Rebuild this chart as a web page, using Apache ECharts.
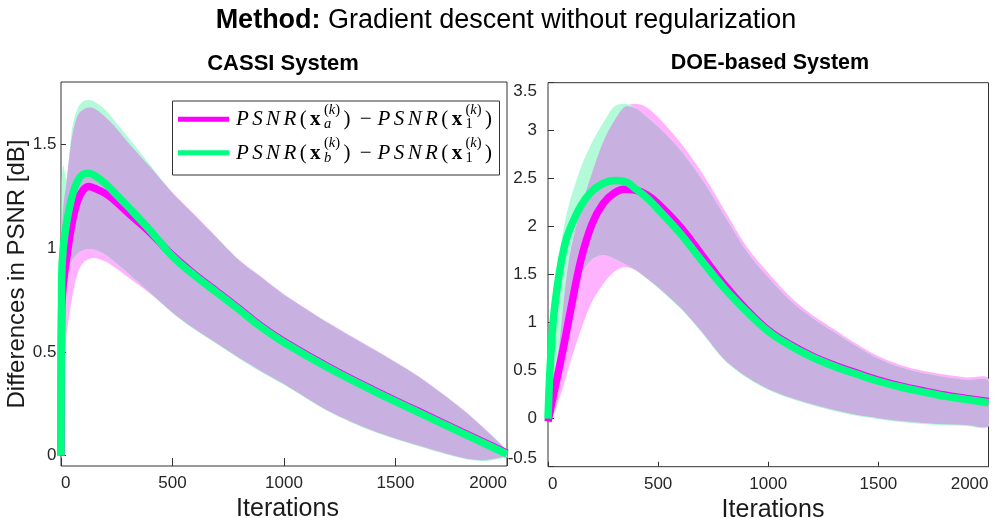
<!DOCTYPE html>
<html>
<head>
<meta charset="utf-8">
<script src="https://cdn.jsdelivr.net/npm/echarts@6.0.0/dist/echarts.min.js"></script>
<style>
  html, body { margin: 0; padding: 0; background: #fff; }
  #chart { width: 994px; height: 518px; }
</style>
</head>
<body>
<div id="chart"></div>
<script>
// ---------- CASSI system: PSNR differences vs. iterations ----------
const cassiIters = [0, 3, 10, 25, 50, 75, 100, 125, 150, 200, 250, 300, 400, 500, 600, 700, 800, 900, 1000, 1200, 1400, 1600, 1800, 1900, 2000];
const cassiMeanA = [0, 0.70, 0.82, 0.95, 1.12, 1.23, 1.28, 1.296, 1.288, 1.262, 1.22, 1.17, 1.075, 0.965, 0.872, 0.79, 0.707, 0.622, 0.55, 0.427, 0.317, 0.215, 0.113, 0.063, 0.012];
const cassiMeanB = [0, 0.85, 1.0, 1.12, 1.25, 1.325, 1.355, 1.36, 1.35, 1.31, 1.255, 1.2, 1.085, 0.96, 0.867, 0.785, 0.702, 0.617, 0.545, 0.422, 0.312, 0.21, 0.108, 0.058, 0.007];
const cassiUpA   = [0, 1.05, 1.2, 1.32, 1.54, 1.64, 1.668, 1.677, 1.672, 1.63, 1.575, 1.51, 1.39, 1.268, 1.16, 1.05, 0.942, 0.86, 0.778, 0.64, 0.515, 0.385, 0.225, 0.13, 0.025];
const cassiUpB   = [0, 1.30, 1.40, 1.33, 1.58, 1.675, 1.707, 1.713, 1.705, 1.665, 1.60, 1.535, 1.40, 1.265, 1.157, 1.047, 0.939, 0.857, 0.775, 0.637, 0.512, 0.382, 0.222, 0.127, 0.022];
const cassiLowA  = [0, 0.2, 0.40, 0.58, 0.76, 0.88, 0.93, 0.947, 0.952, 0.935, 0.90, 0.86, 0.78, 0.69, 0.61, 0.54, 0.47, 0.405, 0.345, 0.215, 0.12, 0.05, -0.01, -0.022, 0.0];
const cassiLowB  = [0, 0.55, 0.75, 0.87, 0.94, 0.975, 0.99, 0.995, 0.993, 0.968, 0.925, 0.88, 0.785, 0.686, 0.606, 0.536, 0.466, 0.401, 0.341, 0.211, 0.116, 0.046, -0.014, -0.026, -0.004];

// ---------- DOE-based system ----------
const doeIters = [0, 10, 25, 50, 75, 100, 150, 200, 250, 300, 350, 400, 450, 500, 600, 700, 800, 900, 1000, 1100, 1200, 1300, 1400, 1500, 1600, 1700, 1800, 1900, 2000];
const doeMeanA = [-0.03, 0.08, 0.25, 0.52, 0.8, 1.1, 1.66, 2.03, 2.24, 2.35, 2.39, 2.38, 2.33, 2.24, 2.0, 1.70, 1.40, 1.14, 0.922, 0.772, 0.652, 0.557, 0.477, 0.402, 0.342, 0.292, 0.247, 0.212, 0.179];
const doeMeanB = [0, 0.55, 1.05, 1.5, 1.8, 1.98, 2.22, 2.37, 2.45, 2.48, 2.47, 2.39, 2.3, 2.18, 1.93, 1.64, 1.36, 1.12, 0.91, 0.76, 0.64, 0.545, 0.465, 0.39, 0.33, 0.28, 0.235, 0.2, 0.167];
const doeUpA   = [0, 0.15, 0.4, 0.75, 1.3, 1.72, 2.2, 2.56, 2.88, 3.1, 3.25, 3.28, 3.24, 3.14, 2.88, 2.56, 2.18, 1.8, 1.52, 1.27, 1.08, 0.93, 0.78, 0.65, 0.56, 0.5, 0.46, 0.43, 0.42];
const doeUpB   = [0, 0.65, 1.15, 1.68, 2.03, 2.27, 2.62, 2.88, 3.08, 3.25, 3.28, 3.23, 3.14, 3.04, 2.8, 2.49, 2.12, 1.75, 1.47, 1.23, 1.05, 0.9, 0.755, 0.625, 0.535, 0.475, 0.435, 0.405, 0.395];
const doeLowA  = [0, 0.0, 0.05, 0.2, 0.38, 0.58, 0.93, 1.22, 1.40, 1.53, 1.58, 1.54, 1.46, 1.37, 1.16, 0.9, 0.62, 0.44, 0.31, 0.22, 0.15, 0.09, 0.04, 0.005, -0.025, -0.045, -0.057, -0.065, -0.07];
const doeLowB  = [0, 0.15, 0.35, 0.6, 0.85, 1.1, 1.5, 1.66, 1.705, 1.67, 1.61, 1.55, 1.455, 1.36, 1.15, 0.89, 0.61, 0.43, 0.30, 0.21, 0.14, 0.08, 0.03, -0.005, -0.035, -0.055, -0.067, -0.075, -0.08];

// ---------- axis ticks ----------
const xTicks = [0, 500, 1000, 1500, 2000];
const cassiYTicks = [0, 0.5, 1, 1.5];
const doeYTicks = [-0.5, 0, 0.5, 1, 1.5, 2, 2.5, 3, 3.5];

// ---------- text ----------
const mainTitleBold = 'Method:';
const mainTitleRest = ' Gradient descent without regularization';
const leftTitle = 'CASSI System';
const rightTitle = 'DOE-based System';
const xName = 'Iterations';
const yName = 'Differences in PSNR [dB]';

// ---------- colours ----------
const MAGENTA = '#FF00FF';
const SPRING = '#00FF80';
const PINK_FILL = '#FFB3FF';
const GREEN_FILL = '#B3FAD9';
const BOTH_FILL = '#C8B1E0';
const AXIS = '#333333';
const LABEL = '#262626';
const SANS = "'Liberation Sans', Arial, Helvetica, sans-serif";
const SERIF = "'Liberation Serif', 'Times New Roman', serif";

const chart = echarts.init(document.getElementById('chart'), null, { renderer: 'canvas' });

function pairs(xs, ys) { return xs.map((x, i) => [x, ys[i]]); }

// Shaded min/max band: one smoothed polygon through the axis scales.
function bandSeries(xs, lo, hi, color, gi) {
  return {
    type: 'custom', xAxisIndex: gi, yAxisIndex: gi, silent: true, clip: true,
    data: xs.map((x, i) => [x, lo[i], hi[i]]),
    encode: { x: 0, y: [1, 2] },
    renderItem: function (params, api) {
      if (params.dataIndex !== 0) return null;
      const top = xs.map((x, i) => api.coord([x, hi[i]]));
      const bottom = xs.map((x, i) => api.coord([x, lo[i]])).reverse();
      return {
        type: 'polygon',
        shape: { points: top.concat(bottom), smooth: 0.3 },
        style: { fill: color, stroke: null }
      };
    }
  };
}

function panelSeries(xs, meanA, meanB, upA, upB, lowA, lowB, gi) {
  const lowBoth = lowA.map((v, i) => Math.max(v, lowB[i]));
  const upBoth = upA.map((v, i) => Math.max(Math.min(v, upB[i]), lowBoth[i]));
  const line = (ys, color) => ({
    type: 'line', xAxisIndex: gi, yAxisIndex: gi, data: pairs(xs, ys),
    smooth: 0.4, showSymbol: false, symbol: 'none', silent: true,
    lineStyle: { color: color, width: 7.5 }, emphasis: { disabled: true }
  });
  return [
    bandSeries(xs, lowA, upA, PINK_FILL, gi),
    bandSeries(xs, lowB, upB, GREEN_FILL, gi),
    bandSeries(xs, lowBoth, upBoth, BOTH_FILL, gi),
    line(meanA, MAGENTA),
    line(meanB, SPRING)
  ];
}

function xAxisOf(gi, tickLen, padLeft) {
  return {
    type: 'value', gridIndex: gi, min: 0, max: 2000, interval: 500,
    axisLine: { show: false, onZero: false },
    axisTick: { show: true, inside: true, length: tickLen, lineStyle: { color: AXIS, width: 1 } },
    axisLabel: {
      color: LABEL, fontSize: 17, fontFamily: SANS, margin: 9,
      alignMinLabel: 'left', alignMaxLabel: 'right',
      formatter: v => String(v)
    },
    splitLine: { show: false },
    name: xName, nameLocation: 'middle', nameGap: 22,
    nameTextStyle: { fontSize: 25, fontFamily: SANS, color: '#1a1a1a', padding: [0, 0, 0, padLeft] }
  };
}

// ---------- legend (drawn as text pieces so sub/superscripts stack) ----------
const measureCtx = document.createElement('canvas').getContext('2d');
function textWidth(str, font) { measureCtx.font = font; return measureCtx.measureText(str).width; }
const MAIN_SIZE = 21, SMALL_SIZE = 14.5;
function fontOf(kind, size) {
  if (kind === 'it') return 'italic ' + size + 'px ' + SERIF;
  if (kind === 'bf') return 'bold ' + size + 'px ' + SERIF;
  return size + 'px ' + SERIF;
}
function psnrTokens(sub, subKind) {
  return [
    { t: 'P', k: 'it' }, { t: 'S', k: 'it' }, { t: 'N', k: 'it' }, { t: 'R', k: 'it' },
    { t: '(', k: 'up' }, { t: 'x', k: 'bf' },
    { sup: [{ t: '(', k: 'up' }, { t: 'k', k: 'it' }, { t: ')', k: 'up' }], sub: [{ t: sub, k: subKind }] },
    { t: ')', k: 'up' }
  ];
}
function rowTokens(sub) {
  return psnrTokens(sub, 'it').concat([{ t: '\u2212', k: 'up', padL: 6, padR: 6, fixed: true }], psnrTokens('1', 'up'));
}
function runWidth(run, size) { return run.reduce((s, r) => s + textWidth(r.t, fontOf(r.k, size)), 0); }
function layoutRow(tokens, x0, baseline, targetWidth) {
  let natural = 0, slots = 0;
  tokens.forEach(tk => {
    if (tk.sup) natural += Math.max(runWidth(tk.sup, SMALL_SIZE), runWidth(tk.sub, SMALL_SIZE));
    else natural += textWidth(tk.t, fontOf(tk.k, MAIN_SIZE)) + (tk.padL || 0) + (tk.padR || 0);
    if (!tk.fixed) slots++;
  });
  const gap = Math.max(0, Math.min(3.4, (targetWidth - natural) / (slots - 1)));
  const out = [];
  const put = (t, k, size, x, base) => out.push({
    type: 'text', z: 101, silent: true,
    style: {
      text: t, x: x, y: base - 0.34 * size, font: fontOf(k, size), fill: '#000',
      align: 'left', verticalAlign: 'middle', textAlign: 'left', textVerticalAlign: 'middle'
    }
  });
  let x = x0;
  tokens.forEach(tk => {
    if (tk.sup) {
      let sx = x;
      tk.sup.forEach(r => { put(r.t, r.k, SMALL_SIZE, sx, baseline - 12); sx += textWidth(r.t, fontOf(r.k, SMALL_SIZE)); });
      let bx = x;
      tk.sub.forEach(r => { put(r.t, r.k, SMALL_SIZE, bx, baseline + 2.5); bx += textWidth(r.t, fontOf(r.k, SMALL_SIZE)); });
      x = Math.max(sx, bx) + gap;
    } else {
      x += tk.padL || 0;
      put(tk.t, tk.k, MAIN_SIZE, x, baseline);
      x += textWidth(tk.t, fontOf(tk.k, MAIN_SIZE)) + (tk.padR || 0) + (tk.fixed ? 0 : gap);
    }
  });
  return out;
}

const legendElements = [
  { type: 'rect', z: 100, silent: true, shape: { x: 172.5, y: 101, width: 327, height: 74 },
    style: { fill: '#fff', stroke: AXIS, lineWidth: 1 } },
  { type: 'line', z: 101, silent: true, shape: { x1: 178, y1: 119.3, x2: 229, y2: 119.3 },
    style: { stroke: MAGENTA, lineWidth: 5 } },
  { type: 'line', z: 101, silent: true, shape: { x1: 178, y1: 152.7, x2: 229, y2: 152.7 },
    style: { stroke: SPRING, lineWidth: 5 } }
].concat(
  layoutRow(rowTokens('a'), 236, 127, 256),
  layoutRow(rowTokens('b'), 236, 160.3, 256)
);

// ---------- titles ----------
const mainBoldW = textWidth(mainTitleBold, 'bold 27px ' + SANS);
const mainRestW = textWidth(mainTitleRest, '27px ' + SANS);
const mainX0 = 506 - (mainBoldW + mainRestW) / 2;
const titleElements = [
  { type: 'text', silent: true, style: { text: mainTitleBold, x: mainX0, y: 21, font: 'bold 27px ' + SANS, fill: '#000',
      align: 'left', verticalAlign: 'middle', textAlign: 'left', textVerticalAlign: 'middle' } },
  { type: 'text', silent: true, style: { text: mainTitleRest, x: mainX0 + mainBoldW, y: 21, font: '27px ' + SANS, fill: '#000',
      align: 'left', verticalAlign: 'middle', textAlign: 'left', textVerticalAlign: 'middle' } },
  { type: 'text', silent: true, style: { text: leftTitle, x: 283, y: 63.5, font: 'bold 22px ' + SANS, fill: '#000',
      align: 'center', verticalAlign: 'middle', textAlign: 'center', textVerticalAlign: 'middle' } },
  { type: 'text', silent: true, style: { text: rightTitle, x: 770, y: 63.5, font: 'bold 21.5px ' + SANS, fill: '#000',
      align: 'center', verticalAlign: 'middle', textAlign: 'center', textVerticalAlign: 'middle' } }
];

const option = {
  animation: false,
  backgroundColor: '#fff',
  grid: [
    { left: 61, top: 82, width: 446, height: 384, show: true, borderColor: AXIS, borderWidth: 1,
      backgroundColor: 'transparent', containLabel: false, outerBoundsMode: 'none' },
    { left: 548, top: 82.7, width: 440.5, height: 384, show: true, borderColor: AXIS, borderWidth: 1,
      backgroundColor: 'transparent', containLabel: false, outerBoundsMode: 'none' }
  ],
  xAxis: [xAxisOf(0, 8, 7), xAxisOf(1, 5, 9.5)],
  yAxis: [
    {
      type: 'value', gridIndex: 0, min: -0.05, max: 1.8,
      axisLine: { show: false, onZero: false },
      axisTick: { show: true, inside: true, length: 5, lineStyle: { color: AXIS, width: 1 }, customValues: cassiYTicks },
      axisLabel: { color: LABEL, fontSize: 17, fontFamily: SANS, margin: 4.5, customValues: cassiYTicks },
      splitLine: { show: false },
      name: yName, nameLocation: 'middle', nameRotate: 90, nameGap: 22,
      nameTextStyle: { fontSize: 24, fontFamily: SANS, color: '#1a1a1a' }
    },
    {
      type: 'value', gridIndex: 1, min: -0.5, max: 3.5, interval: 0.5,
      axisLine: { show: false, onZero: false },
      axisTick: { show: true, inside: true, length: 6, lineStyle: { color: AXIS, width: 1 } },
      axisLabel: { color: LABEL, fontSize: 17, fontFamily: SANS, margin: 11,
        verticalAlignMinLabel: 'bottom', verticalAlignMaxLabel: 'top' },
      splitLine: { show: false }
    }
  ],
  series: [].concat(
    panelSeries(cassiIters, cassiMeanA, cassiMeanB, cassiUpA, cassiUpB, cassiLowA, cassiLowB, 0),
    panelSeries(doeIters, doeMeanA, doeMeanB, doeUpA, doeUpB, doeLowA, doeLowB, 1)
  ),
  graphic: { elements: titleElements.concat(legendElements) }
};

chart.setOption(option);
</script>
</body>
</html>
